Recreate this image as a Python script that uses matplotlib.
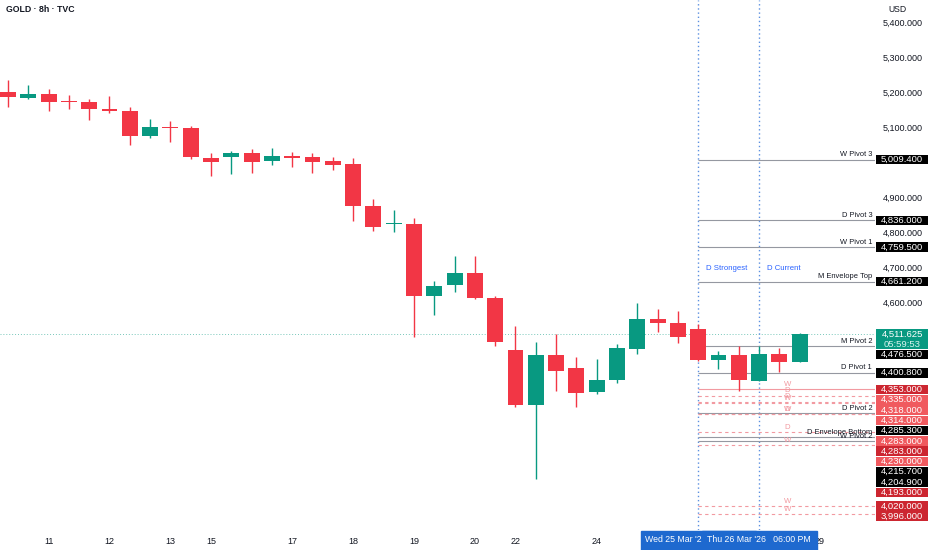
import matplotlib

matplotlib.use("Agg")
import matplotlib.pyplot as plt
import matplotlib.transforms as mtransforms
import numpy as np
from matplotlib.patches import Rectangle

plt.rcParams["font.family"] = ["Liberation Sans", "DejaVu Sans"]

# 8h candles, GOLD (TVC)
opens = [5204, 5185, 5198, 5177, 5173, 5153, 5149, 5078, 5102, 5101,
         5015, 5016, 5028, 5007, 5019, 5016, 5005, 4996, 4877, 4827,
         4826, 4620, 4652, 4687, 4615, 4466, 4308, 4452, 4415, 4345,
         4379, 4468, 4553, 4544, 4525, 4437, 4451, 4376, 4453, 4430]
highs = [5237, 5223, 5211, 5194, 5183, 5191, 5161, 5127, 5120, 5106,
         5028, 5035, 5039, 5043, 5031, 5029, 5016, 5014, 4897, 4866,
         4842, 4663, 4734, 4734, 4620, 4534, 4489, 4511, 4447, 4440,
         4482, 4601, 4584, 4577, 4540, 4463, 4478, 4477, 4470, 4514]
lows = [5161, 5182, 5149, 5154, 5123, 5144, 5052, 5071, 5061, 5011,
        4964, 4969, 4972, 4993, 4989, 4972, 4980, 4833, 4807, 4804,
        4502, 4566, 4632, 4611, 4477, 4302, 4097, 4349, 4304, 4341,
        4371, 4454, 4518, 4485, 4435, 4411, 4349, 4376, 4404, 4430]
closes = [5189, 5197, 5175, 5175, 5153, 5148, 5078, 5102, 5100, 5016,
          5002, 5029, 5002, 5019, 5014, 5004, 4995, 4877, 4818, 4829,
          4621, 4648, 4686, 4614, 4489, 4308, 4452, 4406, 4344, 4380,
          4470, 4553, 4542, 4503, 4437, 4451, 4380, 4453, 4431, 4511.625]

day_ticks = [2, 5, 8, 10, 14, 17, 20, 23, 25, 29, 40]
day_labels = ["11", "12", "13", "15", "17", "18", "19", "20", "22", "24", "29"]

pivot_names = ["W Pivot 3", "D Pivot 3", "W Pivot 1", "M Envelope Top", "M Pivot 2",
               "D Pivot 1", "D Pivot 2", "D Envelope Bottom", "W Pivot 2"]
pivot_prices = [5009.4, 4836.0, 4759.5, 4661.2, 4476.5, 4400.8, 4285.3, 4215.7, 4204.9]

zone_prices = [4353, 4335, 4318, 4314, 4283, 4283, 4230, 4193, 4020, 3996]
zone_tags = ["W", "D", "D", "W", "W", "D", "D", "W", "W", "W"]
zone_dark = [True, False, False, False, False, True, False, True, True, True]

last_price = 4511.625
countdown = "05:59:53"
strongest_bar, current_bar = 34, 37
strongest_date = "Wed 25 Mar '26   06:00 PM"
current_date = "Thu 26 Mar '26   06:00 PM"

GREEN, RED = "#089981", "#f23645"
DARK_RED, LIGHT_RED = "#cc2630", "#f05a5f"
PINK = "#f29aa1"
GREY = "#9598a1"
BLUE = "#5b8fe0"
TXT = "#131722"

W, H = 932, 550
plot_right, plot_bottom = 875, 530
fig = plt.figure(figsize=(W / 100, H / 100), dpi=100)
ax = fig.add_axes([0, 1 - plot_bottom / H, plot_right / W, plot_bottom / H])
axp = fig.add_axes([plot_right / W, 1 - plot_bottom / H, (W - plot_right) / W,
                    plot_bottom / H], sharey=ax)
for a in (ax, axp):
    for s in a.spines.values():
        s.set_visible(False)
ax.set_ylim(3951.4, 5465.7)
ax.set_xlim(-0.394, 42.71)
axp.set_xlim(0, 57)
axp.set_xticks([])
axp.tick_params(left=False, labelleft=False)
ax.tick_params(left=False, labelleft=False)

# candles
o, h, l, c = map(np.array, (opens, highs, lows, closes))
idx = np.arange(len(o))
cols = np.where(c >= o, GREEN, RED)
ax.vlines(idx, l, h, colors=cols, lw=1, zorder=3)
ax.bar(idx, np.maximum(np.abs(c - o), 2.5), 0.78, bottom=np.minimum(o, c),
       color=cols, lw=0, zorder=4)

xmax = ax.get_xlim()[1]
ax.axhline(last_price, color=GREEN, alpha=0.55, lw=0.7, ls=(0, (1, 2)), zorder=1)

# levels
ax.hlines(pivot_prices, strongest_bar, xmax, color=GREY, lw=0.8, zorder=2)
for name, p in zip(pivot_names, pivot_prices):
    ax.annotate(name, xy=(1, p), xycoords=("axes fraction", "data"), xytext=(-2, 1),
                textcoords="offset points", ha="right", va="bottom", fontsize=5.4,
                color=TXT, zorder=6)
for k, (p, tag) in enumerate(zip(zone_prices, zone_tags)):
    ax.hlines(p, strongest_bar, xmax, color=PINK, lw=0.8,
              ls="-" if k == 0 else (0, (3, 3)), zorder=2)
    ax.annotate(tag, xy=(38.4, p), xytext=(0, 1), textcoords="offset points",
                ha="center", va="bottom", fontsize=5.6, color=PINK, zorder=6)

# vertical markers
for b, name in ((strongest_bar, "D Strongest"), (current_bar, "D Current")):
    ax.axvline(b, color=BLUE, lw=1, ls=(0, (1, 2)), zorder=1)
    ax.annotate(name, xy=(b, 0.494), xycoords=("data", "axes fraction"),
                xytext=(5.5, 0), textcoords="offset points", ha="left", va="center",
                fontsize=5.6, color="#2962ff")

# time axis
ax.set_xticks(day_ticks, day_labels)
ax.tick_params(axis="x", length=0, pad=5, labelsize=6.5, labelcolor=TXT)
bt = mtransforms.blended_transform_factory(ax.transData, ax.transAxes)
box_w = 115 / 20.3
for z, (b, txt) in enumerate(((strongest_bar, strongest_date), (current_bar, current_date))):
    ax.add_patch(Rectangle((b - box_w / 2, -20 / plot_bottom), box_w, 19 / plot_bottom,
                           transform=bt, color="#1e69cf", clip_on=False, zorder=10 + 2 * z))
    ax.text(b, -10 / plot_bottom, txt, transform=bt, ha="center", va="center",
            fontsize=6.3, color="white", clip_on=False, zorder=11 + 2 * z)

# price scale labels, stacked like the platform does
BOX_H = 29.4
items = [(p, f"{p:,.3f}", "black", 1) for p in pivot_prices]
items += [(p, f"{p:,.3f}", DARK_RED if d else LIGHT_RED, 1)
          for p, d in zip(zone_prices, zone_dark)]
items.append((last_price, f"{last_price:,.3f}", GREEN, 2))
items.sort(key=lambda t: -t[0])
prev_bottom = np.inf
centers = []
for p, txt, col, rows in items:
    cen = min(p, prev_bottom - BOX_H / 2)
    top = cen + BOX_H / 2
    bot = cen - BOX_H / 2 - (rows - 1) * BOX_H
    axp.add_patch(Rectangle((1, bot + 1), 52, top - bot - 2, color=col, lw=0))
    axp.text(27, cen, txt, ha="center", va="center", fontsize=6.8, color="white")
    if rows == 2:
        axp.text(27, cen - BOX_H, countdown, ha="center", va="center", fontsize=6.8,
                 color="#d8f3ee")
    centers.append(cen)
    prev_bottom = bot

for t in range(4000, 5401, 100):
    if all(abs(t - cc) > BOX_H * 0.9 for cc in centers):
        axp.text(48, t, f"{t:,.3f}", ha="right", va="center", fontsize=6.5, color=TXT)

fig.text(6 / W, 1 - 10 / H, "GOLD · 8h · TVC", fontsize=6.3, fontweight="bold",
         color=TXT, va="center", ha="left")
fig.text(897 / W, 1 - 10 / H, "USD", fontsize=6.2, color=TXT, va="center", ha="center")

fig.savefig("out.png", dpi=100)
